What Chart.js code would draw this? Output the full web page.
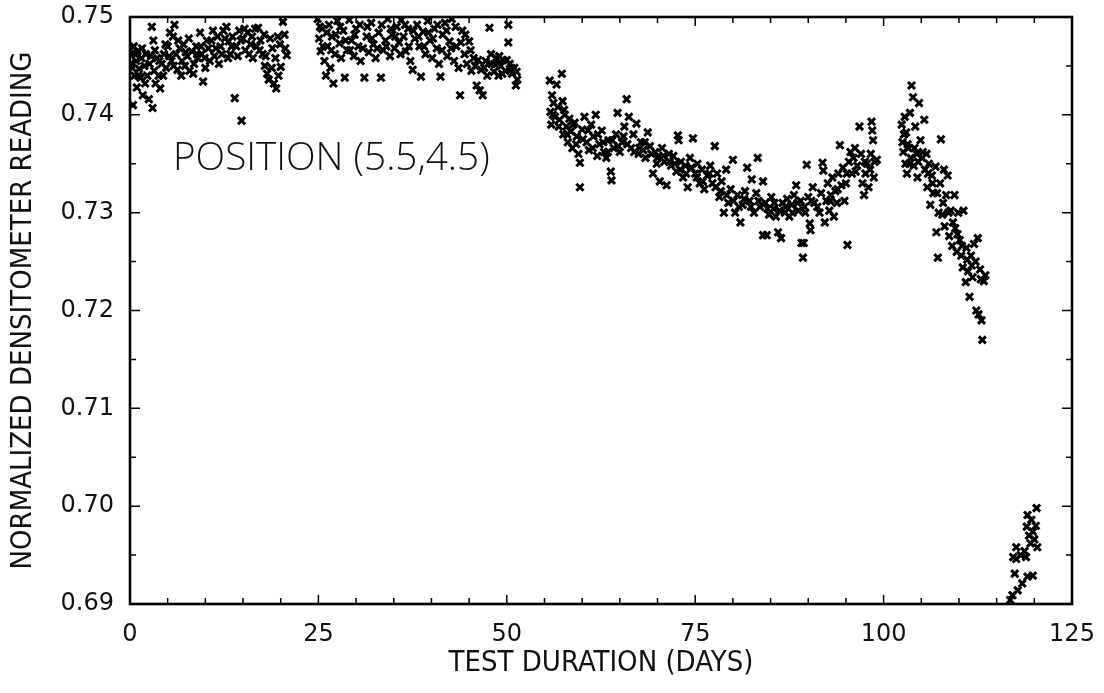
<!DOCTYPE html>
<html>
<head>
<meta charset="utf-8">
<script src="https://cdn.jsdelivr.net/npm/chart.js@4.4.1/dist/chart.umd.min.js"></script>
<style>
html,body{margin:0;padding:0;background:#fff;}
#wrap{width:1104px;height:693px;position:relative;}
</style>
</head>
<body>
<div id="wrap"><canvas id="c" width="1104" height="693"></canvas></div>
<script>
// ---- data (day, normalized reading) ----
const segment1 = [[0.2,0.7462],[0.3,0.7448],[0.4,0.7410],[0.5,0.7470],[0.6,0.7440],[0.8,0.7455],[0.9,0.7428],[1.0,0.7465],[1.2,0.7447],[1.4,0.7438],[1.5,0.7458],[1.7,0.7420],[1.9,0.7450],[2.1,0.7462],[2.3,0.7440],[2.5,0.7416],[2.6,0.7452],[2.9,0.7490],[3.0,0.7407],[3.1,0.7476],[3.2,0.7445],[3.4,0.7432],[3.6,0.7458],[3.8,0.7440],[4.0,0.7427],[4.2,0.7452],[4.5,0.7462],[4.8,0.7448],[5.0,0.7470],[5.3,0.7484],[5.5,0.7455],[5.7,0.7480],[5.9,0.7492],[6.1,0.7462],[6.3,0.7446],[6.6,0.7468],[6.9,0.7455],[7.1,0.7472],[7.3,0.7450],[7.6,0.7460],[7.9,0.7445],[8.2,0.7465],[8.5,0.7452],[8.8,0.7470],[9.0,0.7458],[9.3,0.7484],[9.5,0.7462],[9.7,0.7434],[10.0,0.7448],[10.4,0.7468],[10.8,0.7476],[11.2,0.7460],[11.6,0.7480],[12.0,0.7470],[12.4,0.7486],[12.8,0.7490],[13.1,0.7475],[13.3,0.7462],[13.6,0.7480],[13.9,0.7417],[14.1,0.7470],[14.5,0.7486],[14.8,0.7394],[15.0,0.7478],[15.3,0.7466],[15.6,0.7484],[16.0,0.7472],[16.3,0.7458],[16.6,0.7488],[17.0,0.7489],[17.3,0.7476],[17.6,0.7462],[17.9,0.7450],[18.2,0.7442],[18.4,0.7436],[18.6,0.7478],[18.9,0.7468],[19.1,0.7432],[19.4,0.7427],[19.7,0.7440],[19.9,0.7472],[20.0,0.7449],[20.3,0.7495],[20.5,0.7482],[20.8,0.7461],
[0.1,0.7452],[0.7,0.7462],[1.1,0.7440],[1.6,0.7468],[2.0,0.7432],[2.8,0.7460],[3.3,0.7466],[3.9,0.7455],[4.4,0.7440],[4.7,0.7472],[5.2,0.7460],[5.8,0.7450],[6.4,0.7476],[6.8,0.7440],[7.4,0.7464],[7.8,0.7478],[8.4,0.7442],[8.9,0.7462],[9.4,0.7470],[9.9,0.7458],[10.2,0.7476],[10.6,0.7455],[11.0,0.7486],[11.4,0.7468],[11.8,0.7452],[12.2,0.7462],[12.6,0.7478],[13.0,0.7458],[13.5,0.7470],[14.3,0.7460],[14.7,0.7476],[15.2,0.7488],[15.8,0.7462],[16.2,0.7480],[16.8,0.7470],[17.2,0.7466],[17.8,0.7482],[18.0,0.7460],[18.8,0.7448],[19.3,0.7458],[19.6,0.7480],[20.6,0.7468]];

const segment2 = [[24.9,0.7498],[25.1,0.7478],[25.3,0.7465],[25.5,0.7488],[25.8,0.7455],[26.0,0.7440],[26.2,0.7470],[26.4,0.7492],[26.6,0.7448],[26.8,0.7480],[27.0,0.7432],[27.2,0.7462],[27.5,0.7496],[27.8,0.7473],[28.0,0.7458],[28.3,0.7486],[28.5,0.7438],[28.8,0.7466],[29.1,0.7497],[29.4,0.7476],[29.7,0.7460],[30.0,0.7488],[30.3,0.7470],[30.6,0.7455],[31.1,0.7438],[31.4,0.7480],[31.7,0.7464],[32.0,0.7494],[32.3,0.7472],[32.6,0.7458],[33.0,0.7484],[33.3,0.7438],[33.6,0.7466],[33.9,0.7476],[34.2,0.7498],[34.5,0.7460],[34.8,0.7482],[35.1,0.7468],[35.4,0.7490],[35.7,0.7474],[36.0,0.7497],[36.3,0.7480],[36.6,0.7465],[36.9,0.7488],[37.2,0.7455],[37.5,0.7446],[37.8,0.7478],[38.1,0.7492],[38.4,0.7470],[38.6,0.7439],[38.9,0.7485],[39.2,0.7462],[39.5,0.7496],[39.8,0.7476],[40.1,0.7458],[40.4,0.7488],[40.7,0.7468],[41.0,0.7452],[41.2,0.7439],[41.5,0.7482],[41.8,0.7494],[42.1,0.7460],[42.4,0.7475],[42.7,0.7498],[43.0,0.7455],[43.3,0.7470],[43.6,0.7448],[43.8,0.7420],[44.1,0.7486],[44.4,0.7462],[44.7,0.7452],[45.0,0.7475],[45.3,0.7445],[45.6,0.7458],[46.0,0.7430],[46.4,0.7425],[46.8,0.7420],[47.0,0.7448],[47.2,0.7455],[47.7,0.7489],[48.0,0.7452],[48.3,0.7444],[48.6,0.7458],[48.9,0.7440],[49.2,0.7450],[49.5,0.7456],[49.8,0.7445],[50.2,0.7492],[50.2,0.7474],[50.4,0.7452],[50.7,0.7442],[51.0,0.7448],[51.2,0.7430],[51.4,0.7436],
[25.2,0.7490],[25.6,0.7470],[26.1,0.7484],[26.7,0.7466],[27.3,0.7482],[27.9,0.7490],[28.6,0.7476],[29.2,0.7466],[29.8,0.7482],[30.5,0.7492],[30.9,0.7468],[31.5,0.7490],[32.1,0.7478],[32.8,0.7468],[33.4,0.7492],[34.0,0.7470],[34.6,0.7488],[35.2,0.7480],[35.9,0.7462],[36.5,0.7492],[37.0,0.7470],[37.6,0.7486],[38.3,0.7480],[39.0,0.7470],[39.6,0.7484],[40.2,0.7478],[40.8,0.7492],[41.4,0.7466],[42.0,0.7486],[42.6,0.7468],[43.2,0.7490],[43.9,0.7474],[44.5,0.7482],[45.2,0.7466],[45.8,0.7450],[46.2,0.7456],[46.6,0.7446],[47.4,0.7440],[47.9,0.7462],[48.4,0.7452],[49.0,0.7460],[49.4,0.7442],[50.0,0.7456],[50.6,0.7448],[51.3,0.7444]];

const segment3 = [[55.7,0.7435],[55.8,0.7403],[55.9,0.7390],[56.0,0.7420],[56.2,0.7412],[56.4,0.7398],[56.6,0.7431],[56.8,0.7408],[57.0,0.7395],[57.3,0.7442],[57.4,0.7414],[57.5,0.7380],[57.7,0.7400],[57.9,0.7388],[58.1,0.7372],[58.3,0.7396],[58.5,0.7383],[58.7,0.7366],[59.0,0.7392],[59.3,0.7378],[59.5,0.7360],[59.7,0.7351],[59.7,0.7326],[60.0,0.7385],[60.3,0.7398],[60.6,0.7372],[60.9,0.7364],[61.2,0.7390],[61.5,0.7378],[61.8,0.7400],[62.0,0.7358],[62.3,0.7370],[62.6,0.7384],[62.9,0.7362],[63.2,0.7356],[63.5,0.7374],[63.8,0.7342],[63.9,0.7333],[64.2,0.7366],[64.5,0.7380],[64.7,0.7402],[65.0,0.7362],[65.3,0.7372],[65.6,0.7388],[65.9,0.7416],[66.2,0.7398],[66.5,0.7366],[66.8,0.7380],[67.2,0.7391],[67.5,0.7360],[67.8,0.7372],[68.1,0.7364],[68.4,0.7356],[68.7,0.7382],[69.0,0.7368],[69.4,0.7340],[69.7,0.7362],[70.0,0.7356],[70.3,0.7332],[70.6,0.7366],[70.9,0.7352],[71.2,0.7328],[71.5,0.7360],[71.8,0.7348],[72.1,0.7358],[72.5,0.7342],[72.7,0.7379],[72.8,0.7374],[73.1,0.7352],[73.4,0.7336],[73.7,0.7348],[74.0,0.7326],[74.3,0.7356],[74.7,0.7376],[75.0,0.7340],[75.3,0.7350],[75.6,0.7330],[75.9,0.7344],[76.2,0.7324],[76.6,0.7338],[77.0,0.7348],[77.3,0.7330],[77.6,0.7368],[77.9,0.7340],[78.2,0.7316],[78.5,0.7332],[78.8,0.7300],[79.1,0.7344],[79.4,0.7310],[79.7,0.7324],[80.0,0.7354],[80.3,0.7300],[80.6,0.7318],[81.0,0.7290],[81.3,0.7308],[81.6,0.7322],[81.9,0.7346],[82.2,0.7312],[82.5,0.7334],[82.8,0.7300],[83.1,0.7320],[83.3,0.7356],[83.6,0.7306],[84.0,0.7277],[84.0,0.7332],[84.3,0.7310],[84.5,0.7277],[84.8,0.7298],[85.1,0.7316],[85.4,0.7304],[85.7,0.7296],[86.0,0.7280],[86.4,0.7274],[86.6,0.7310],[86.9,0.7300],[87.2,0.7314],[87.5,0.7296],[87.8,0.7308],[88.1,0.7318],[88.4,0.7328],[88.7,0.7302],[89.0,0.7312],[89.1,0.7269],[89.3,0.7254],[89.4,0.7269],[89.6,0.7300],[89.8,0.7349],[90.0,0.7316],[90.2,0.7289],[90.3,0.7282],[90.6,0.7326],[90.8,0.7310],
[56.1,0.7400],[56.9,0.7388],[57.6,0.7405],[58.0,0.7380],[58.8,0.7390],[59.2,0.7370],[60.1,0.7375],[60.8,0.7384],[61.4,0.7366],[62.1,0.7380],[62.8,0.7372],[63.4,0.7362],[64.0,0.7374],[64.8,0.7368],[65.5,0.7378],[66.0,0.7370],[66.9,0.7362],[67.6,0.7366],[68.3,0.7372],[69.2,0.7360],[69.9,0.7350],[70.8,0.7358],[71.6,0.7352],[72.3,0.7350],[73.0,0.7344],[73.8,0.7340],[74.5,0.7346],[75.2,0.7336],[76.0,0.7332],[76.9,0.7340],[77.7,0.7326],[78.4,0.7322],[79.2,0.7318],[80.1,0.7312],[80.8,0.7306],[81.5,0.7314],[82.4,0.7306],[83.4,0.7312],[84.6,0.7304],[85.5,0.7310],[86.2,0.7302],[87.0,0.7306],[87.9,0.7300],[88.6,0.7310],[89.5,0.7306],[90.4,0.7312]];

const segment3b = [[91.5,0.7300],[91.7,0.7320],[91.9,0.7351],[92.0,0.7343],[92.2,0.7290],[92.4,0.7312],[92.6,0.7330],[92.8,0.7302],[93.0,0.7318],[93.2,0.7336],[93.4,0.7296],[93.6,0.7322],[93.8,0.7310],[94.0,0.7340],[94.2,0.7369],[94.4,0.7328],[94.6,0.7346],[94.8,0.7312],[95.0,0.7330],[95.2,0.7267],[95.4,0.7352],[95.6,0.7362],[95.8,0.7340],[96.0,0.7356],[96.2,0.7366],[96.5,0.7348],[96.8,0.7388],[97.0,0.7360],[97.2,0.7330],[97.4,0.7318],[97.6,0.7340],[97.8,0.7350],[98.0,0.7326],[98.2,0.7344],[98.4,0.7393],[98.5,0.7384],[98.6,0.7374],[98.7,0.7336],[98.8,0.7352],[99.1,0.7354],
[91.2,0.7306],[92.9,0.7312],[93.9,0.7324],[95.1,0.7340],[96.3,0.7342],[97.5,0.7352],[98.3,0.7360]];

const segment4 = [[102.4,0.7390],[102.5,0.7372],[102.6,0.7362],[102.8,0.7398],[102.9,0.7350],[103.0,0.7382],[103.1,0.7340],[103.3,0.7366],[103.5,0.7402],[103.6,0.7356],[103.7,0.7430],[103.9,0.7418],[104.0,0.7348],[104.2,0.7388],[104.4,0.7360],[104.5,0.7336],[104.7,0.7412],[104.9,0.7374],[105.1,0.7356],[105.4,0.7395],[105.5,0.7344],[105.7,0.7360],[105.8,0.7326],[106.0,0.7350],[106.2,0.7308],[106.4,0.7338],[106.6,0.7320],[106.9,0.7347],[107.0,0.7280],[107.2,0.7254],[107.3,0.7300],[107.5,0.7330],[107.6,0.7375],[107.8,0.7298],[108.0,0.7344],[108.1,0.7286],[108.3,0.7318],[108.5,0.7338],[108.7,0.7276],[108.9,0.7302],[109.1,0.7266],[109.4,0.7318],[109.5,0.7284],[109.7,0.7260],[109.9,0.7300],[110.1,0.7272],[110.3,0.7256],[110.5,0.7244],[110.6,0.7302],[110.9,0.7229],[111.0,0.7264],[111.2,0.7240],[111.4,0.7214],[111.6,0.7256],[111.8,0.7234],[112.0,0.7268],[112.3,0.7200],[112.5,0.7274],[112.6,0.7196],[112.8,0.7242],[113.0,0.7190],[113.1,0.7170],[113.3,0.7230],[113.5,0.7236],
[102.7,0.7380],[103.2,0.7370],[103.4,0.7350],[104.1,0.7366],[104.6,0.7352],[105.2,0.7362],[105.9,0.7340],[106.5,0.7330],[107.1,0.7320],[107.9,0.7310],[108.6,0.7300],[109.2,0.7290],[109.8,0.7278],[110.4,0.7266],[111.1,0.7252],[111.7,0.7246],[112.2,0.7250],[112.9,0.7232]];

const segment5 = [[116.8,0.6904],[117.1,0.6909],[117.2,0.6948],[117.4,0.6931],[117.6,0.6958],[117.6,0.6946],[117.8,0.6914],[118.2,0.6950],[118.4,0.6921],[118.7,0.6954],[118.9,0.6948],[119.0,0.6979],[119.1,0.6928],[119.1,0.6991],[119.3,0.6970],[119.5,0.6962],[119.6,0.6986],[119.8,0.6929],[119.8,0.6974],[120.0,0.6966],[120.3,0.6998],[120.4,0.6958],[120.2,0.6980]];

const xTicks = [0, 25, 50, 75, 100, 125];
const yTicks = [0.69, 0.70, 0.71, 0.72, 0.73, 0.74, 0.75];
const xLabel = 'TEST DURATION (DAYS)';
const yLabel = 'NORMALIZED DENSITOMETER READING';
const annotationText = 'POSITION (5.5,4.5)';

const allPoints = [].concat(segment1, segment2, segment3, segment3b, segment4, segment5)
  .map(p => ({x: p[0], y: p[1]}));

const titleFont = '"DejaVu Sans Condensed", "Liberation Sans Narrow", "Liberation Sans", sans-serif';

const frameAndTicks = {
  id: 'frameAndTicks',
  afterDraw(chart) {
    const {ctx, chartArea: a, scales: {x, y}} = chart;
    ctx.save();
    ctx.strokeStyle = '#000';
    ctx.lineWidth = 1.5;
    ctx.beginPath();
    for (let d = 0; d <= 125; d += 5) {
      const px = x.getPixelForValue(d);
      const len = (d % 25 === 0) ? 9 : 6;
      ctx.moveTo(px, a.bottom); ctx.lineTo(px, a.bottom - len);
      ctx.moveTo(px, a.top); ctx.lineTo(px, a.top + len);
    }
    for (let i = 0; i <= 12; i++) {
      const v = 0.69 + i * 0.005;
      const py = y.getPixelForValue(v);
      const len = (i % 2 === 0) ? 10 : 6;
      ctx.moveTo(a.left, py); ctx.lineTo(a.left + len, py);
      ctx.moveTo(a.right, py); ctx.lineTo(a.right - len, py);
    }
    ctx.stroke();
    ctx.lineWidth = 2.6;
    ctx.strokeRect(a.left, a.top, a.right - a.left, a.bottom - a.top);
    // annotation
    ctx.fillStyle = '#111';
    ctx.font = '300 35px "Open Sans", "Liberation Sans", sans-serif';
    const w = ctx.measureText(annotationText).width;
    const size = 35 * 317 / w;
    ctx.font = '300 ' + size.toFixed(1) + 'px "Open Sans", "Liberation Sans", sans-serif';
    ctx.textBaseline = 'alphabetic';
    ctx.textAlign = 'left';
    ctx.fillText(annotationText, x.getPixelForValue(5.7), y.getPixelForValue(0.7344));
    ctx.restore();
  }
};

new Chart(document.getElementById('c'), {
  type: 'scatter',
  data: {
    datasets: [{
      data: allPoints,
      pointStyle: 'crossRot',
      pointRadius: 5,
      pointBorderWidth: 3,
      borderColor: '#000',
      backgroundColor: '#000'
    }]
  },
  options: {
    responsive: false,
    animation: false,
    layout: {padding: {top: 17, right: 32, left: 0, bottom: 0}},
    plugins: {legend: {display: false}, tooltip: {enabled: false}},
    scales: {
      x: {
        type: 'linear', min: 0, max: 125,
        afterBuildTicks: s => { s.ticks = xTicks.map(v => ({value: v})); },
        afterFit: s => { s.height = 89; s.paddingLeft = 0; s.paddingRight = 0; },
        grid: {display: false, drawTicks: false},
        border: {display: false},
        ticks: {padding: 16, color: '#111', font: {family: '"DejaVu Sans", sans-serif', size: 24}},
        title: {display: true, text: xLabel, color: '#111', padding: {top: 0, bottom: 12},
          font: {family: titleFont, size: 29}}
      },
      y: {
        type: 'linear', min: 0.69, max: 0.75,
        afterBuildTicks: s => { s.ticks = yTicks.map(v => ({value: v})); },
        afterFit: s => { s.width = 130; s.paddingTop = 0; s.paddingBottom = 0; },
        grid: {display: false, drawTicks: false},
        border: {display: false},
        ticks: {padding: 16, color: '#111', callback: v => v.toFixed(2),
          font: {family: '"DejaVu Sans", sans-serif', size: 24}},
        title: {display: true, text: yLabel, color: '#111', padding: {top: 6, bottom: 0},
          font: {family: titleFont, size: 29}}
      }
    }
  },
  plugins: [frameAndTicks]
});
</script>
</body>
</html>
